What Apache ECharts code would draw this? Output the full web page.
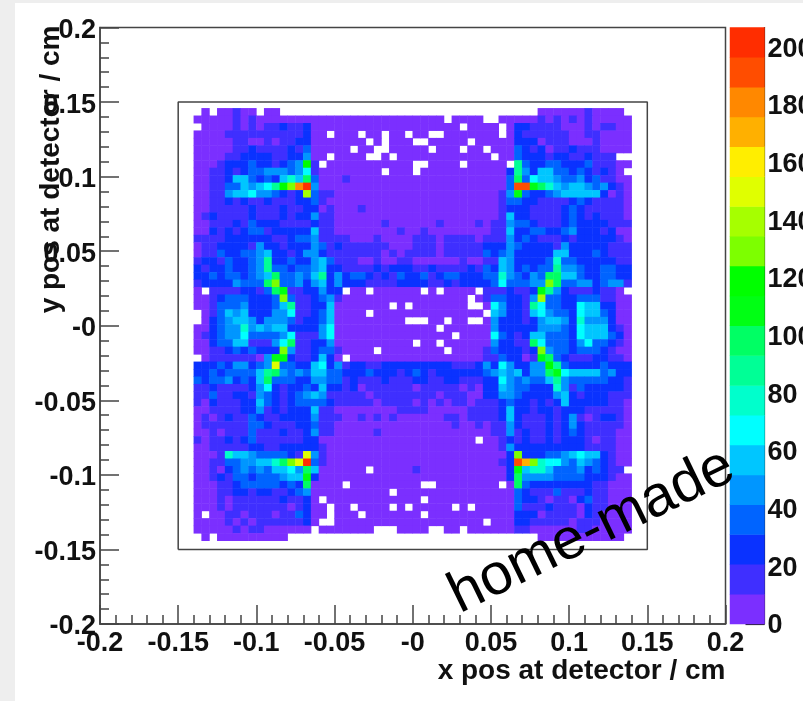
<!DOCTYPE html>
<html><head><meta charset="utf-8">
<style>html,body{margin:0;padding:0;background:#fff;overflow:hidden}#c{width:812px;height:701px;filter:blur(0.5px)}</style>
<script src="https://cdn.jsdelivr.net/npm/echarts@6/dist/echarts.min.js"></script></head>
<body><div id="c"></div>
<script>
// Histogram cells. One character per bin: '.' = empty,
// 1-9,a-k = colour band 1-20 (band width about 10.34 counts).
// Columns x = -0.14 .. 0.14, rows y = 0.145 (top) .. -0.145, bin size 0.005 cm.
const rowsLeft = [
".1.11211.11.................",
"1111121211111111111111111111",
".11112121223223" + "1111111111111",
"111122222222223" + "11.111.11.11.",
"111112211212233" + "1111111.1.111",
"111112232222324" + "11111.11..111",
"111122333322335" + "11.1111..1.11",
"11123334332345c" + "2.11111111111",
"112232344555457" + "211111111.111",
"11223664343686a" + "4111211111111",
"11224465679cdik" + "5111111111111",
"11225667554323e" + "4221111111111",
"112232322322233" + "4211111111111",
"112222232223223" + "3121112111111",
"123222232223233" + "5221111111111",
"112223243332222" + "3221111112111",
"113232344233333" + "6221111111121",
"222233333322344" + "5222211121111",
"122333325332333" + "5423222222111",
"122433445633235" + "5322222221212",
"233243345933433" + "5642221121122",
"323343345944344" + "5633222232333",
"3343443456a4454" + "6935344323243",
"233335444ad4453" + "5635333222233",
"1.22223324ab223" + "3533.11.11111",
"11234443334d422" + "3452111111111",
"112444533346922" + "3361111111.1.",
".12465633355722" + "3461111.11111",
".13456653555423" + "346111111111.",
"113455856566333" + "3571111111111",
"123455744445722" + "2571111111111",
"113446622257a22" + "3351111111111",
"11223434333d522" + "34421111.1111",
".122222215bb322" + "3631.11111111",
"3334355345f4433" + "6735233223333",
"3343444469a5454" + "6644333433323",
"434453436a44433" + "5544232223222",
"223222235732334" + "3633231222222",
"224223325432345" + "6522222122222",
"213222336432344" + "4432222212222",
"112222335232333" + "6221111111122",
"121232243223333" + "5222112121211",
"122222244322233" + "4221111111111",
"112122242223223" + "5221111121111",
"212232342222223" + "3111111111111",
"112222233223333" + "3211111111111",
"11128665444432f" + "5211111111111",
"11224455668adfk" + "4211111111111",
"11213454546675a" + "6111111.11111",
"11232443444566b" + "3111111111111",
"11122344444343a" + "1111.11111111",
"111223323322345" + "1111111111.11",
"111212222223223" + "1.11111111111",
"111212222222123" + "11.11.1111.1.",
"1.1122122212243" + "11.111.111111",
"111121212222223" + "1..1111111111",
"111112122111111" + ".1111111...11",
".1.111111111................"
];
const rowsRight = [
"................11111121111.",
"1111.1111..11111212121211111",
"111111.1111.1332222111212211",
"11..1111111.1322222211221111",
"..11111.11111333122211121111",
"11.111.11.111432312232221111",
"1111111111.114333233223222..",
"..1111.11111.943344333422211",
".11111111111395366443432321.",
"1111111111114a47665445342211",
"1111111111114jjba86566545321",
"1111111111125b43345666663121",
"1111111111124433222234322221",
"1111111111123332222343222221",
"1111111111126332222343232221",
"1112111121225443222343333222",
"1211111111226334433453332311",
"2221222212225343222323333321",
"2221222223335433332533333222",
"2221222224345333336633343222",
"1111112112265333348443333322",
"2232222324365343449554334433",
"34234433344854354aa664334433",
"33223233334744455da445534552",
"1.1.1111.2223223b9532223221.",
"1111111.12443325e44334442211",
"1111111..1753329744337663311",
"111111111.653326754437664311",
"..11.11..1533323566538555311",
"111.111111533333555437666321",
"11111.1111743236644437666431",
".11.11111153322a744435744321",
"1111.11112433323d54434443211",
"1111111112243312ba4322233221",
"33333222353753355c9433334333",
"43233333345656355ab766664533",
"3322332223375454469544444332",
"1222221213365443338524333332",
"2221222113355433335632333222",
"1212122122234332323633333221",
"2211111222236332332333222221",
"1111221222236322232352123321",
"1111121121225322232353222221",
"1111111111225232232343222211",
"11111111.1123232232333212211",
"1111111111125333333333222211",
"1111111111113d33344567663211",
"1111111111123jhd877546543211",
"2111111111113b6886444534322.",
"1111111111113a55554444333211",
"1..11111111.1a43333333322111",
"1111111111111432224222322111",
"1.11111111111433212213422111",
"11111.1.11111422232221322111",
"1.11111111111333122221321111",
"111111111.111332222212221111",
"11..11.111111221111112211111",
"................11111111111."
];
const colBandColors = [
"#7b2fff","#3f2fff","#0a32ff","#0064ff","#0096ff",
"#00c6ff","#00ffff","#00ffcc","#00ff96","#00ff64",
"#00ff14","#00ff00","#7dff00","#a6ff00","#e0ff00",
"#ffee00","#ffb000","#ff8800","#ff4d00","#ff2d00"
];
const bandWidth = 10.34;
const colorMax = 206.8;
const binSize = 0.005;
const firstColumnBin = 12;   // x = -0.14
const topRowBin = 68;        // y = 0.14 .. 0.145
const axisTicksColor = [0,20,40,60,80,100,120,140,160,180,200];
const boxCorners = [[-0.15,-0.15],[0.15,-0.15],[0.15,0.15],[-0.15,0.15],[-0.15,-0.15]];
const xTitle = "x pos at detector / cm";
const yTitle = "y pos at detector / cm";
const note = "home-made";

const binLabels = Array.from({length:80},(_,i)=>(-0.2+i*binSize).toFixed(3));
const cells = [];
rowsLeft.forEach((l,r)=>{
  const s = l.slice(0,28).padEnd(28,".")+rowsRight[r];
  for(let c=0;c<s.length && c<56;c++){
    if(s[c]==='.') continue;
    const band = parseInt(s[c],36);
    cells.push([firstColumnBin+c, topRowBin-r, (band-0.5)*bandWidth]);
  }
});
const bandCells = colBandColors.map((_,i)=>[0,i,(i+0.5)*bandWidth]);
const pieces = colBandColors.map((color,i)=>({min:i*bandWidth,max:(i+1)*bandWidth,color}));

const FONT = "Liberation Sans";
const label = {fontFamily:FONT,fontWeight:"bold",fontSize:27,color:"#111"};
const fmt = v => Math.abs(v)<1e-9 ? "-0" : String(+v.toFixed(2));
const LINE = {color:"#444",width:1.5};
const hidden = {show:false};

const valueAxis = extra => Object.assign({
  type:"value",min:-0.2,max:0.2,interval:0.05,
  axisLine:{show:true,onZero:false,lineStyle:LINE},
  axisTick:{show:true,inside:true,length:19,lineStyle:LINE},
  minorTick:{show:true,splitNumber:5,length:9,lineStyle:LINE},
  splitLine:hidden,
  nameMoveOverlap:false
},extra);

const chart = echarts.init(document.getElementById("c"),null,{renderer:"canvas"});
chart.setOption({
  animation:false,
  backgroundColor:"#eeeeee",
  tooltip:{show:false},
  grid:[
    {left:100,top:27.5,width:625.5,height:596.5,show:true,backgroundColor:"#fff",borderColor:"#444",borderWidth:1.5,outerBoundsMode:"none"},
    {left:100,top:26.3,width:625.5,height:596.5,outerBoundsMode:"none"},
    {left:730,top:27.5,width:34.5,height:596.5,outerBoundsMode:"none"}
  ],
  xAxis:[
    valueAxis({gridIndex:0,position:"bottom",
      axisLabel:Object.assign({},label,{formatter:fmt,margin:6}),
      name:xTitle,nameLocation:"end",nameGap:0,
      nameTextStyle:Object.assign({},label,{fontSize:28,align:"right",verticalAlign:"top",padding:[33,0,0,0]})}),
    {type:"category",gridIndex:1,data:binLabels,show:false},
    {type:"category",gridIndex:2,data:["z"],show:false}
  ],
  yAxis:[
    valueAxis({gridIndex:0,position:"left",
      axisLabel:Object.assign({},label,{formatter:fmt,margin:4,verticalAlign:"top",lineHeight:6}),
      name:yTitle,nameLocation:"end",nameGap:2,nameRotate:90,
      nameTextStyle:Object.assign({},label,{fontSize:28,align:"right",verticalAlign:"bottom",padding:[0,0,35,0]})}),
    {type:"category",gridIndex:1,data:binLabels,show:false},
    {type:"category",gridIndex:2,data:colBandColors.map((_,i)=>String(i)),show:false},
    {type:"value",gridIndex:2,position:"right",min:0,max:colorMax,
      axisLine:{show:true,lineStyle:{color:"#222",width:1.2}},
      axisTick:{show:true,inside:true,length:19,lineStyle:{color:"#222",width:1.2},customValues:axisTicksColor},
      axisLabel:Object.assign({},label,{margin:3,verticalAlign:"top",lineHeight:4,customValues:axisTicksColor}),
      splitLine:hidden}
  ],
  visualMap:{type:"piecewise",show:false,seriesIndex:[1,2],dimension:2,pieces},
  series:[
    {type:"line",name:"acceptance box",xAxisIndex:0,yAxisIndex:0,data:boxCorners,showSymbol:false,symbol:"none",
     lineStyle:{color:"#444",width:1.5},z:5,silent:true},
    {type:"heatmap",name:"hits",xAxisIndex:1,yAxisIndex:1,data:cells,progressive:0,silent:true,z:3},
    {type:"heatmap",name:"colour scale",xAxisIndex:2,yAxisIndex:2,data:bandCells,progressive:0,silent:true,z:3}
  ],
  graphic:[
    {type:"rect",z:-10,zlevel:0,silent:true,shape:{x:15,y:3,width:797,height:698},style:{fill:"#fff"}},
    {type:"rect",z:100,silent:true,shape:{x:803,y:0,width:9,height:701},style:{fill:"#fff"}},
    {type:"text",z:101,silent:true,x:440,y:573,rotation:26*Math.PI/180,
     style:{text:note,font:"58px 'Liberation Sans'",fill:"#000",textAlign:"left"}}
  ]
});
</script></body></html>
